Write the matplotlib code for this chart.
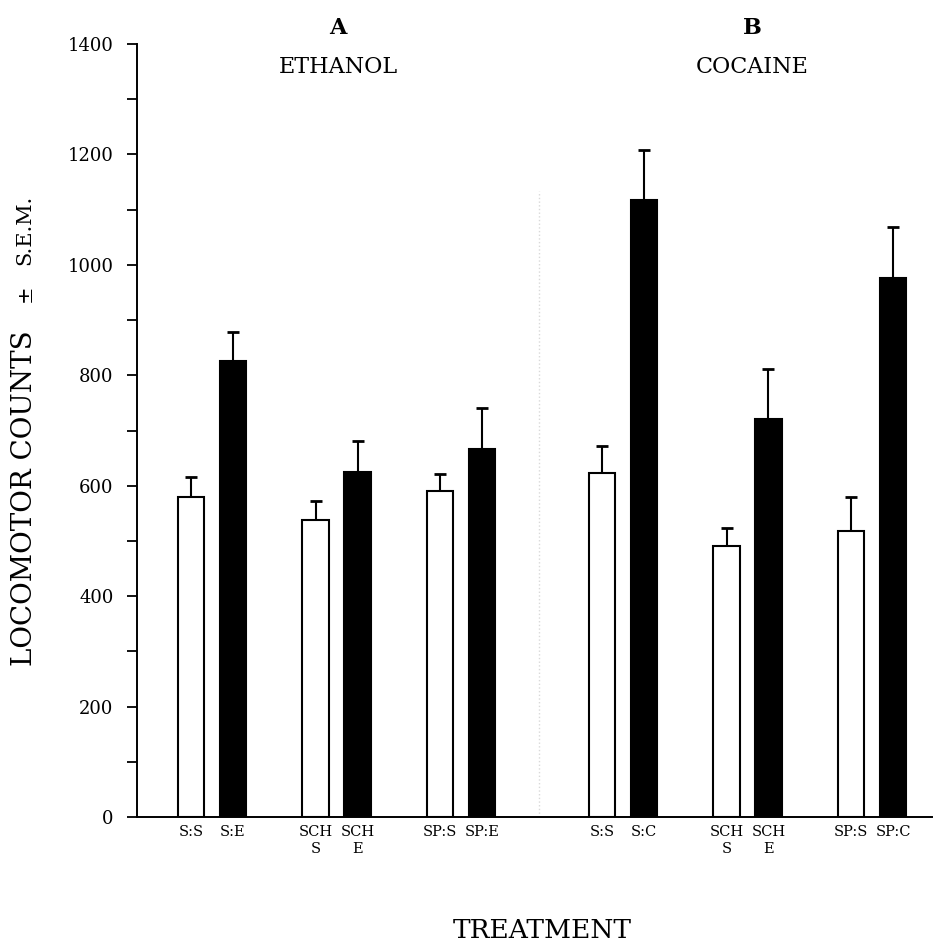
import matplotlib
matplotlib.use("Agg")
import matplotlib.pyplot as plt
import numpy as np
from matplotlib.ticker import MultipleLocator

plt.rcParams["font.family"] = ["DejaVu Serif"]

# ── data ──────────────────────────────────────────────────────────────────────
bar_labels = ["S:S", "S:E", "SCH\nS", "SCH\nE", "SP:S", "SP:E",
              "S:S", "S:C", "SCH\nS", "SCH\nE", "SP:S", "SP:C"]
means = [580, 825, 538, 624, 591, 666,
         623, 1118, 490, 721, 518, 976]
sems = [36, 53, 35, 57, 31, 74,
        49, 90, 34, 90, 61, 93]
drug = [0, 1, 0, 1, 0, 1, 0, 1, 0, 1, 0, 1]   # 0 = saline (open), 1 = drug (filled)
panel_titles = [("A", "ETHANOL"), ("B", "COCAINE")]

# ── layout ────────────────────────────────────────────────────────────────────
pair_off = 0.337
panel_gap = 3.30
bar_w = 0.215
xpos = []
for i in range(len(means)):
    panel, rem = divmod(i, 6)
    group, sub = divmod(rem, 2)
    xpos.append(panel * panel_gap + group + sub * pair_off)
xpos = np.array(xpos)

fig = plt.figure(figsize=(9.34, 9.44), dpi=100)
ax = fig.add_axes([137 / 934, 1 - 817 / 944, 795 / 934, 773 / 944])

colors = ["white" if d == 0 else "black" for d in drug]
ax.bar(xpos, means, width=bar_w, color=colors, edgecolor="black", linewidth=1.5, zorder=3)
ax.errorbar(xpos, means, yerr=[np.zeros(len(sems)), sems], fmt="none",
            ecolor="black", elinewidth=1.5, capsize=4, capthick=2, zorder=2)

# faint dotted divider between the two panels
ax.axvline((xpos[5] + xpos[6]) / 2 - 0.025, ymin=0, ymax=0.81, color="0.85",
           linestyle=":", linewidth=1, zorder=1)

ax.set_xlim(-0.434, 5.95)
ax.set_ylim(0, 1400)
ax.yaxis.set_major_locator(MultipleLocator(200))
ax.yaxis.set_minor_locator(MultipleLocator(100))
ax.tick_params(axis="y", which="both", direction="out", length=7, width=1.3,
               pad=10, labelsize=13)
ax.set_xticks(xpos)
ax.set_xticklabels(bar_labels, fontsize=10.5, linespacing=1.2)
ax.tick_params(axis="x", length=0, pad=6)

for side in ["top", "right"]:
    ax.spines[side].set_visible(False)
for side in ["left", "bottom"]:
    ax.spines[side].set_linewidth(1.4)

# panel headings
for p, (letter, name) in enumerate(panel_titles):
    cx = (338 if p == 0 else 752) / 934
    fig.text(cx, 1 - 28 / 944, letter, ha="center", va="center",
             fontsize=16, fontweight="bold")
    fig.text(cx, 1 - 67 / 944, name, ha="center", va="center", fontsize=16)

# axis labels
fig.text(25 / 934, 1 - 498 / 944, "LOCOMOTOR COUNTS", rotation=90,
         ha="center", va="center", fontsize=20)
fig.text(25 / 934, 1 - 293 / 944, "\u00b1", rotation=90,
         ha="center", va="center", fontsize=15)
fig.text(25 / 934, 1 - 230 / 944, "S.E.M.", rotation=90,
         ha="center", va="center", fontsize=15)
fig.text(542 / 934, 1 - 930 / 944, "TREATMENT", ha="center", va="center",
         fontsize=19)

fig.savefig("out.png", dpi=100)
